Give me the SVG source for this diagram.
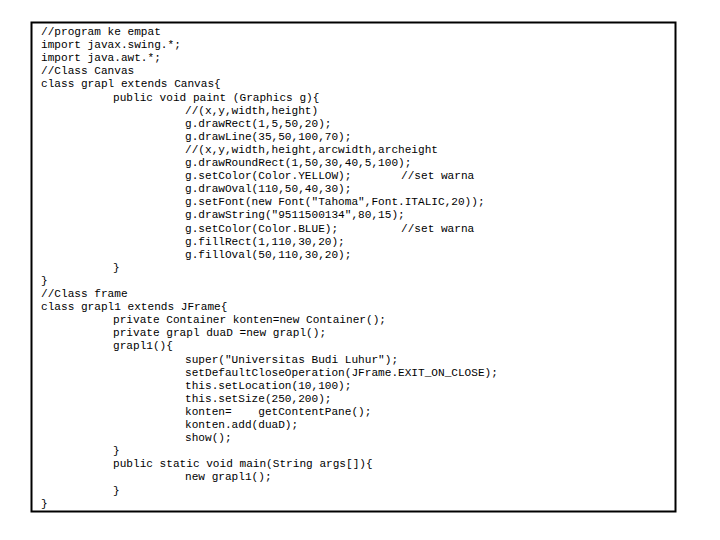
<svg xmlns="http://www.w3.org/2000/svg" width="720" height="540" viewBox="0 0 720 540">
<style>text{font-family:"Liberation Mono","Courier New",monospace;font-size:11.1px;fill:#000;white-space:pre}</style>
<rect width="720" height="540" fill="#fff"/>
<g id="code">
<rect x="31.5" y="22.5" width="644" height="489" fill="none" stroke="#000" stroke-width="2"/>
<text x="41" y="35">//program ke empat</text>
<text x="41" y="48.1">import javax.swing.*;</text>
<text x="41" y="61.2">import java.awt.*;</text>
<text x="41" y="74.3">//Class Canvas</text>
<text x="41" y="87.4">class grapl extends Canvas{</text>
<text x="113" y="100.5">public void paint (Graphics g){</text>
<text x="185" y="113.6">//(x,y,width,height)</text>
<text x="185" y="126.7">g.drawRect(1,5,50,20);</text>
<text x="185" y="139.8">g.drawLine(35,50,100,70);</text>
<text x="185" y="152.9">//(x,y,width,height,arcwidth,archeight</text>
<text x="185" y="166">g.drawRoundRect(1,50,30,40,5,100);</text>
<text x="185" y="179.1">g.setColor(Color.YELLOW);</text><text x="401" y="179.1">//set warna</text>
<text x="185" y="192.2">g.drawOval(110,50,40,30);</text>
<text x="185" y="205.3">g.setFont(new Font("Tahoma",Font.ITALIC,20));</text>
<text x="185" y="218.4">g.drawString("9511500134",80,15);</text>
<text x="185" y="231.5">g.setColor(Color.BLUE);</text><text x="401" y="231.5">//set warna</text>
<text x="185" y="244.6">g.fillRect(1,110,30,20);</text>
<text x="185" y="257.7">g.fillOval(50,110,30,20);</text>
<text x="113" y="270.8">}</text>
<text x="41" y="283.9">}</text>
<text x="41" y="297">//Class frame</text>
<text x="41" y="310.1">class grapl1 extends JFrame{</text>
<text x="113" y="323.2">private Container konten=new Container();</text>
<text x="113" y="336.3">private grapl duaD =new grapl();</text>
<text x="113" y="349.4">grapl1(){</text>
<text x="185" y="362.5">super("Universitas Budi Luhur");</text>
<text x="185" y="375.6">setDefaultCloseOperation(JFrame.EXIT_ON_CLOSE);</text>
<text x="185" y="388.7">this.setLocation(10,100);</text>
<text x="185" y="401.8">this.setSize(250,200);</text>
<text x="185" y="414.9">konten=    getContentPane();</text>
<text x="185" y="428">konten.add(duaD);</text>
<text x="185" y="441.1">show();</text>
<text x="113" y="454.2">}</text>
<text x="113" y="467.3">public static void main(String args[]){</text>
<text x="185" y="480.4">new grapl1();</text>
<text x="113" y="493.5">}</text>
<text x="41" y="506.6">}</text>
</g>
</svg>
